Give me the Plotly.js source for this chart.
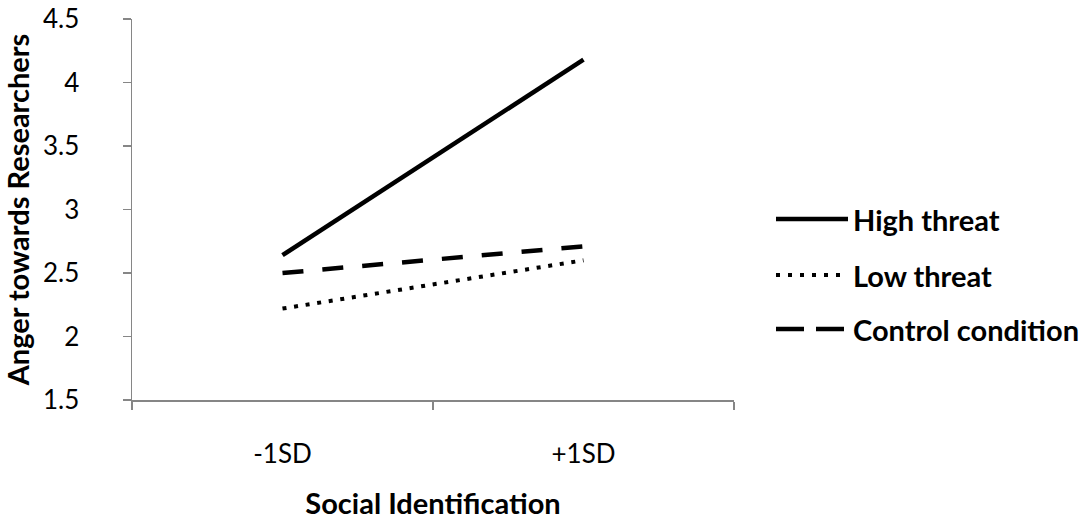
<!DOCTYPE html>
<html>
<head>
<meta charset="utf-8">
<script src="https://cdn.plot.ly/plotly-3.0.1.min.js"></script>
<style>html,body{margin:0;padding:0;background:#fff;}#chart{width:1086px;height:525px;}</style>
</head>
<body>
<div id="chart"></div>
<script>
const categories = ["-1SD", "+1SD"];
const seriesNames = ["High threat", "Low threat", "Control condition"];
const highThreat = [2.64, 4.18];
const lowThreat = [2.22, 2.60];
const controlCondition = [2.50, 2.71];
const yTickValues = [1.5, 2, 2.5, 3, 3.5, 4, 4.5];
const yTickLabels = ["1.5", "2", "2.5", "3", "3.5", "4", "4.5"];

const FONT = "Lato, 'Open Sans', sans-serif";
const styles = [
  {width: 4.5, dash: "solid"},
  {width: 4, dash: "4px,7.7px"},
  {width: 4.5, dash: "21px,19px"}
];
const legendDash = ["solid", "4px,8px", "28px,12px"];
const seriesValues = [highThreat, lowThreat, controlCondition];

const traces = seriesValues.map((vals, i) => ({
  type: "scatter", mode: "lines",
  x: categories, y: vals, name: seriesNames[i],
  line: {color: "#000000", width: styles[i].width, dash: styles[i].dash},
  showlegend: false, hoverinfo: "skip"
}));

// custom legend (layout positions in paper coordinates)
const W = 1086, H = 525, mL = 132, mR = 352, mT = 19, mB = 125;
const pw = W - mL - mR, ph = H - mT - mB;
const px = v => (v - mL) / pw;
const py = v => (H - mB - v) / ph;
const legendY = [219, 275, 329];
const shapes = [], annotations = [];
seriesNames.forEach((n, i) => {
  shapes.push({type: "line", xref: "paper", yref: "paper",
    x0: px(776), x1: px(848), y0: py(legendY[i]), y1: py(legendY[i]),
    line: {color: "#000", width: styles[i].width, dash: legendDash[i]}});
  annotations.push({xref: "paper", yref: "paper", x: px(851), y: py(legendY[i]),
    xanchor: "left", yanchor: "middle", showarrow: false, text: "<b>" + n + "</b>",
    font: {family: FONT, size: 29, color: "#000"}});
});

const layout = {
  width: W, height: H,
  margin: {l: mL, r: mR, t: mT, b: mB, pad: 0},
  paper_bgcolor: "#fff", plot_bgcolor: "#fff",
  font: {family: FONT, color: "#000"},
  showlegend: false,
  xaxis: {
    type: "category", range: [-0.5, 1.5],
    showline: true, linecolor: "#868686", linewidth: 1.5,
    ticks: "outside", tickson: "boundaries", ticklen: 8, tickcolor: "#868686", tickwidth: 1.5,
    showgrid: false, zeroline: false,
    tickfont: {family: FONT, size: 26, color: "#000"},
    ticklabelstandoff: 30,
    title: {text: "<b>Social Identification</b>", font: {family: FONT, size: 29, color: "#000"}, standoff: 26},
    automargin: false
  },
  yaxis: {
    range: [1.5, 4.5], tickvals: yTickValues, ticktext: yTickLabels,
    showline: true, linecolor: "#868686", linewidth: 1.5,
    ticks: "outside", ticklen: 8, tickcolor: "#868686", tickwidth: 1.5,
    showgrid: false, zeroline: false,
    tickfont: {family: FONT, size: 26, color: "#000"},
    ticklabelstandoff: 38,
    title: {text: "<b>Anger towards Researchers</b>", font: {family: FONT, size: 29, color: "#000"}, standoff: 7},
    automargin: false
  },
  shapes: shapes,
  annotations: annotations
};

Plotly.newPlot("chart", traces, layout, {displayModeBar: false, staticPlot: true});
</script>
</body>
</html>
